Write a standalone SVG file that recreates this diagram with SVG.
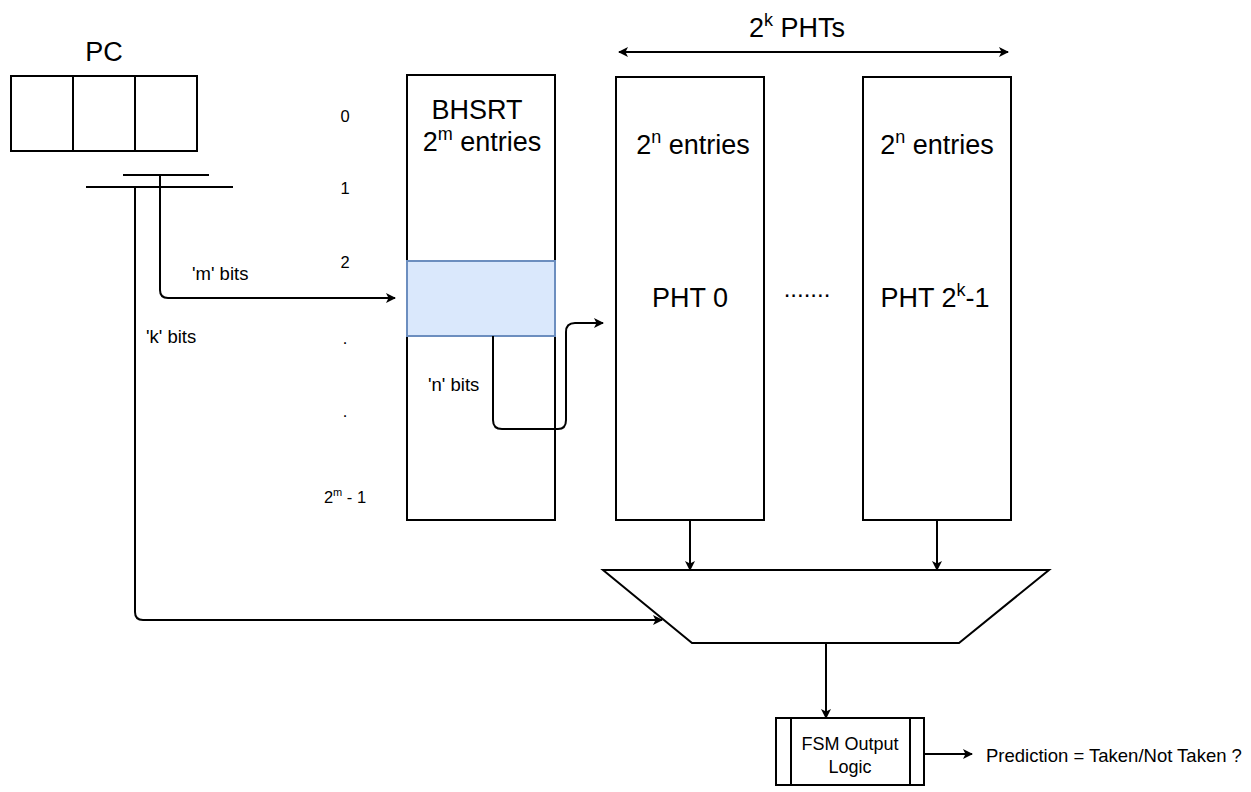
<svg xmlns="http://www.w3.org/2000/svg" width="1251" height="792" viewBox="0 0 1251 792">
<style>
.box{fill:#fff;stroke:#000;stroke-width:2}
.ln{fill:none;stroke:#000;stroke-width:2}
.t{font-family:"Liberation Sans",Arial,sans-serif;fill:#000}
.big{font-size:27px}
.sm{font-size:16.5px}
.md{font-size:18.5px}
</style>
<defs>
<marker id="ah" viewBox="0 0 10 10" refX="9" refY="5" markerWidth="10" markerHeight="10" markerUnits="userSpaceOnUse" orient="auto-start-reverse">
<path d="M0,0 L10,5 L0,10 L2.5,5 Z" fill="#000"/>
</marker>
</defs>
<rect width="1251" height="792" fill="#fff"/>
<g id="pc">
<text class="t" x="104" y="61" font-size="27" text-anchor="middle">PC</text>
<rect class="box" x="11" y="76" width="186" height="75"/>
<line class="ln" x1="73" y1="76" x2="73" y2="151"/>
<line class="ln" x1="135" y1="76" x2="135" y2="151"/>
<line class="ln" x1="123" y1="175" x2="209" y2="175"/>
<line class="ln" x1="86" y1="187" x2="233" y2="187"/>
</g>
<g id="indices" class="t sm" text-anchor="middle">
<text x="345" y="122">0</text>
<text x="345" y="194">1</text>
<text x="345" y="268">2</text>
<text x="345" y="344">.</text>
<text x="345" y="417">.</text>
<text x="345" y="503">2<tspan font-size="11" dy="-7">m</tspan><tspan dy="7"> - 1</tspan></text>
</g>
<g id="bhsrt">
<rect class="box" x="407" y="75" width="148" height="445"/>
<rect x="407" y="261" width="148" height="75" fill="#dae8fc" stroke="#6c8ebf" stroke-width="2"/>
<text class="t big" x="477" y="119" text-anchor="middle">BHSRT</text>
<text class="t big" x="482" y="151" text-anchor="middle">2<tspan font-size="18" dy="-11">m</tspan><tspan dy="11"> entries</tspan></text>
</g>
<g id="pht0">
<rect class="box" x="616" y="77" width="148" height="443"/>
<text class="t big" x="693" y="154" text-anchor="middle">2<tspan font-size="18" dy="-11">n</tspan><tspan dy="11"> entries</tspan></text>
<text class="t big" x="690" y="307" text-anchor="middle">PHT 0</text>
</g>
<g id="dots">
<text class="t" x="807" y="297" font-size="24" text-anchor="middle">.......</text>
</g>
<g id="phtlast">
<rect class="box" x="863" y="77" width="148" height="443"/>
<text class="t big" x="937" y="154" text-anchor="middle">2<tspan font-size="18" dy="-11">n</tspan><tspan dy="11"> entries</tspan></text>
<text class="t big" x="935" y="307" text-anchor="middle">PHT 2<tspan font-size="18" dy="-11">k</tspan><tspan dy="11">-1</tspan></text>
</g>
<g id="phts-label">
<text class="t" x="797" y="37" font-size="27" text-anchor="middle">2<tspan font-size="18" dy="-11">k</tspan><tspan dy="11"> PHTs</tspan></text>
</g>
<g id="mux">
<polygon class="box" points="603,570 1049,570 959,643 692,643"/>
</g>
<g id="fsm">
<rect class="box" x="776" y="718" width="148" height="67"/>
<line class="ln" x1="791" y1="718" x2="791" y2="785"/>
<line class="ln" x1="910" y1="718" x2="910" y2="785"/>
<text class="t" x="850" y="750" font-size="18" text-anchor="middle">FSM Output</text>
<text class="t" x="850" y="773" font-size="18" text-anchor="middle">Logic</text>
</g>
<g id="prediction">
<text class="t md" x="986" y="762">Prediction = Taken/Not Taken ?</text>
</g>
<g id="connectors">
<line class="ln" x1="619" y1="52" x2="1008" y2="52" marker-start="url(#ah)" marker-end="url(#ah)"/>
<path class="ln" d="M160,175 V290 Q160,298 168,298 H395" marker-end="url(#ah)"/>
<path class="ln" d="M135,187 V612 Q135,620 143,620 H662" marker-end="url(#ah)"/>
<path class="ln" d="M493,336 V420 Q493,429 502,429 H558 Q566,429 566,420 V332 Q566,323 575,323 H603" marker-end="url(#ah)"/>
<line class="ln" x1="690" y1="520" x2="690" y2="570" marker-end="url(#ah)"/>
<line class="ln" x1="937" y1="520" x2="937" y2="570" marker-end="url(#ah)"/>
<line class="ln" x1="826" y1="643" x2="826" y2="718" marker-end="url(#ah)"/>
<line class="ln" x1="924" y1="754" x2="972" y2="754" marker-end="url(#ah)"/>
<text class="t md" x="192" y="280">'m' bits</text>
<text class="t md" x="146" y="343">'k' bits</text>
<text class="t md" x="428" y="391">'n' bits</text>
</g>
</svg>
